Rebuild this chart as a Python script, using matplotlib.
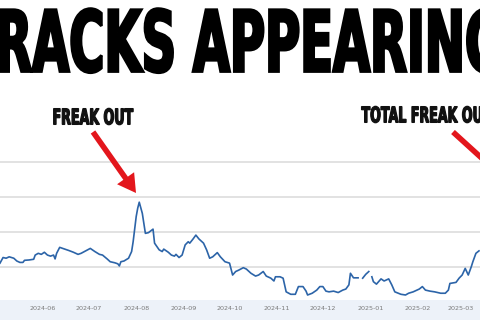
import numpy as np
import pandas as pd
import matplotlib
matplotlib.use('Agg')
import matplotlib.pyplot as plt
import matplotlib.dates as mdates
import matplotlib.patheffects as pe
from matplotlib.patches import Rectangle
from matplotlib.transforms import Affine2D

# daily readings (gaps = missing days)
dates = ['2024-05-04', '2024-05-06', '2024-05-08', '2024-05-10', '2024-05-13', '2024-05-15',
         '2024-05-17', '2024-05-19', '2024-05-20', '2024-05-23', '2024-05-26', '2024-05-27',
         '2024-05-29', '2024-05-31', '2024-06-02', '2024-06-04', '2024-06-06', '2024-06-08',
         '2024-06-09', '2024-06-10', '2024-06-12', '2024-06-14', '2024-06-18', '2024-06-21',
         '2024-06-24', '2024-06-26', '2024-06-29', '2024-07-02', '2024-07-05', '2024-07-08',
         '2024-07-10', '2024-07-13', '2024-07-15', '2024-07-18', '2024-07-20', '2024-07-21',
         '2024-07-22', '2024-07-24', '2024-07-27', '2024-07-29', '2024-07-30', '2024-08-01',
         '2024-08-02', '2024-08-03', '2024-08-05', '2024-08-07', '2024-08-09', '2024-08-12',
         '2024-08-13', '2024-08-16', '2024-08-18', '2024-08-19', '2024-08-22', '2024-08-24',
         '2024-08-26', '2024-08-27', '2024-08-29', '2024-08-31', '2024-09-02', '2024-09-04',
         '2024-09-05', '2024-09-07', '2024-09-09', '2024-09-11', '2024-09-14', '2024-09-16',
         '2024-09-18', '2024-09-20', '2024-09-23', '2024-09-25', '2024-09-28', '2024-10-01',
         '2024-10-03', '2024-10-05', '2024-10-07', '2024-10-10', '2024-10-12', '2024-10-15',
         '2024-10-18', '2024-10-20', '2024-10-23', '2024-10-25', '2024-10-28', '2024-10-30',
         '2024-10-31', '2024-11-03', '2024-11-05', '2024-11-07', '2024-11-10', '2024-11-13',
         '2024-11-15', '2024-11-18', '2024-11-20', '2024-11-21', '2024-11-24', '2024-11-27',
         '2024-11-29', '2024-12-01', '2024-12-03', '2024-12-05', '2024-12-08', '2024-12-11',
         '2024-12-14', '2024-12-16', '2024-12-18', '2024-12-19', '2024-12-21', '2024-12-24',
         '2024-12-25', '2024-12-27', '2024-12-29', '2024-12-31', '2025-01-01', '2025-01-02',
         '2025-01-03', '2025-01-05', '2025-01-08', '2025-01-10', '2025-01-13', '2025-01-15',
         '2025-01-17', '2025-01-21', '2025-01-24', '2025-01-26', '2025-01-29', '2025-02-02',
         '2025-02-04', '2025-02-06', '2025-02-09', '2025-02-12', '2025-02-16', '2025-02-19',
         '2025-02-21', '2025-02-22', '2025-02-26', '2025-02-28', '2025-03-02', '2025-03-04',
         '2025-03-06', '2025-03-08', '2025-03-09', '2025-03-11', '2025-03-13']
values = [11.1, 12.7, 12.5, 12.9, 12.5, 11.7,
          11.3, 11.3, 11.9, 12.0, 12.2, 13.4,
          13.9, 13.6, 14.2, 13.4, 13.1, 13.4,
          12.3, 13.9, 15.6, 15.3, 14.7, 14.2,
          13.6, 13.9, 14.6, 15.3, 14.4, 13.6,
          13.4, 12.3, 11.5, 11.2, 10.9, 10.3,
          11.5, 11.7, 12.5, 14.4, 17.2, 24.4,
          26.8, 28.5, 25.3, 19.6, 19.8, 20.8,
          16.8, 14.9, 14.4, 15.1, 14.2, 13.4,
          13.1, 13.6, 12.7, 13.4, 16.3, 17.2,
          16.8, 17.9, 19.1, 18.0, 16.8, 14.9,
          12.5, 12.9, 14.1, 12.9, 11.5, 11.1,
          7.7, 8.7, 9.1, 9.8, 9.4, 8.2,
          7.4, 7.7, 8.7, 7.4, 6.8, 6.0,
          7.2, 7.2, 6.8, 2.9, 2.2, 2.2,
          4.4, 4.4, 3.1, 2.0, 2.5, 3.4,
          4.4, 4.4, 3.1, 2.9, 3.1, 2.7,
          3.4, 3.7, 4.9, 8.2, 6.9, 6.9,
          None, 6.8, 7.9, 8.7, None, 7.2,
          5.8, 5.1, 6.6, 6.0, 6.6, 4.9,
          2.9, 2.2, 2.0, 2.5, 2.9, 3.7,
          4.4, 3.4, 3.1, 2.9, 2.5, 2.5,
          3.4, 5.3, 5.6, 6.8, 7.7, 9.6,
          7.7, 10.1, 11.5, 13.9, 14.6]
grid_levels = [10, 20, 30, 40]

headline = 'CRACKS APPEARING'
label1 = 'FREAK OUT'
label2 = 'TOTAL FREAK OUT'


class Squeeze(pe.AbstractPathEffect):
    """narrow the glyphs around x0 (px) and fatten them with an outline"""
    def __init__(self, x0, sx, lw):
        super().__init__()
        self.x0, self.sx, self.lw = x0, sx, lw

    def draw_path(self, renderer, gc, tpath, affine, rgbFace=None):
        t = affine + Affine2D().translate(-self.x0, 0).scale(self.sx, 1).translate(self.x0, 0)
        gc0 = renderer.new_gc()
        gc0.copy_properties(gc)
        gc0.set_linewidth(self.lw)
        gc0.set_foreground(rgbFace)
        gc0.set_joinstyle('miter')
        renderer.draw_path(gc0, tpath, t, rgbFace)
        gc0.restore()


x = pd.to_datetime(dates)
y = np.array([np.nan if v is None else v for v in values], dtype=float)

fig = plt.figure(figsize=(4.8, 3.2), dpi=100)
fig.patch.set_facecolor('white')

# light band behind the date labels
fig.add_artist(Rectangle((0, 0), 1, 20 / 320, transform=fig.transFigure,
                         facecolor='#edf2f9', edgecolor='none', zorder=0))

ax = fig.add_axes([0, 20 / 320, 1, 150 / 320])
ax.set_facecolor('white')
ax.plot(x, y, color='#2c64a8', lw=1.2, zorder=3)
for g in grid_levels:
    ax.axhline(g, color='#dadada', lw=1.1, zorder=1)

ax.set_xlim(pd.Timestamp('2024-05-04'), pd.Timestamp('2025-03-13 16:00'))
ax.set_ylim(0.57, 43.4)
ax.xaxis.set_major_locator(mdates.MonthLocator())
ax.xaxis.set_major_formatter(mdates.DateFormatter('%Y-%m'))
ax.tick_params(axis='x', length=0, pad=4, labelsize=4.6, labelcolor='#7a7a7a')
ax.set_yticks([])
for s in ax.spines.values():
    s.set_visible(False)

# headline + labels: DejaVu Sans Bold squeezed into a poster-like narrow face
x_head, x_l1, x_l2 = -40, 52.5, 361.5
fig.text(x_head / 480, 248.5 / 320, headline, fontsize=61, fontweight='bold',
         color='black', ha='left', va='baseline',
         path_effects=[Squeeze(x_head, 0.566, 2.0)])
fig.text(x_l1 / 480, (320 - 124.4) / 320, label1, fontsize=15.6, fontweight='bold',
         color='#111111', ha='left', va='baseline',
         path_effects=[Squeeze(x_l1, 0.584, 0.9)])
fig.text(x_l2 / 480, (320 - 122.4) / 320, label2, fontsize=15.6, fontweight='bold',
         color='#111111', ha='left', va='baseline',
         path_effects=[Squeeze(x_l2, 0.584, 0.9)])

red = '#e3161c'
ax.annotate('', xy=(136, 320 - 193), xytext=(93, 320 - 132), xycoords='figure pixels',
            textcoords='figure pixels', annotation_clip=False,
            arrowprops=dict(facecolor=red, edgecolor='none', width=4, headwidth=15,
                            headlength=13, shrink=0))
ax.annotate('', xy=(508, 320 - 182), xytext=(453, 320 - 132), xycoords='figure pixels',
            textcoords='figure pixels', annotation_clip=False,
            arrowprops=dict(facecolor=red, edgecolor='none', width=4, headwidth=15,
                            headlength=13, shrink=0))

fig.savefig('out.png', dpi=100)
